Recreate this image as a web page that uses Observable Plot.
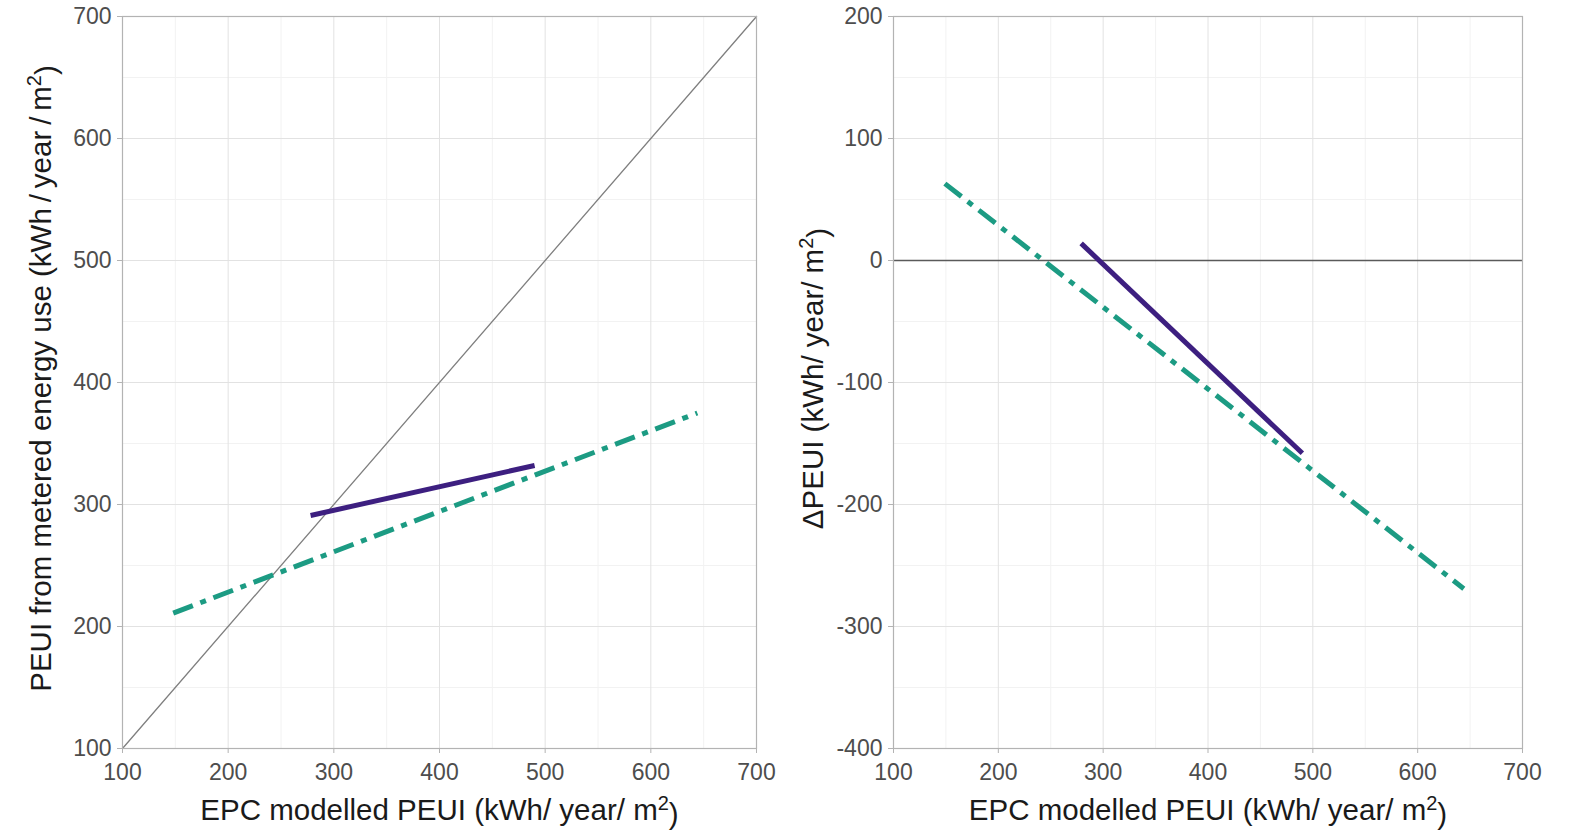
<!DOCTYPE html>
<html>
<head>
<meta charset="utf-8">
<script src="https://cdn.jsdelivr.net/npm/d3@7"></script>
<script src="https://cdn.jsdelivr.net/npm/@observablehq/plot@0.6"></script>
<style>
  html, body { margin: 0; padding: 0; background: #fff; }
  #wrap { display: flex; width: 1573px; height: 832px; }
  svg { font-family: "Liberation Sans", Arial, sans-serif; }
</style>
</head>
<body>
<div id="wrap"></div>
<script>
// ---- data ----
const seriesNames = ["Group A", "Group B"];
// Left panel: fitted lines, EPC modelled PEUI (x) vs metered PEUI (y)
const solidX = [278, 490];
const solidY = [291, 332];
const dashX = [148, 644];
const dashY = [211, 375];
// Right panel: delta PEUI
const solidDX = [279, 490];
const solidDY = [14, -158];
const dashDX = [149, 644];
const dashDY = [63, -269];
// identity reference line
const identX = [100, 700];
const identY = [100, 700];
const zeroLine = [0];
// ticks
const xTicks = [100, 200, 300, 400, 500, 600, 700];
const xMinor = [150, 250, 350, 450, 550, 650];
const yTicksL = [100, 200, 300, 400, 500, 600, 700];
const yMinorL = [150, 250, 350, 450, 550, 650];
const yTicksR = [-400, -300, -200, -100, 0, 100, 200];
const yMinorR = [-350, -250, -150, -50, 50, 150];
// labels
const xLabel = "EPC modelled PEUI (kWh/ year/ m^2)";
const yLabelL = "PEUI from metered energy use (kWh\u2009/\u2009year\u2009/\u2009m^2)";
const yLabelR = "\u0394PEUI (kWh/ year/ m^2)";

const colors = ["#3d1f80", "#1c9b83"];
const toPts = (xs, ys) => xs.map((x, i) => ({x, y: ys[i]}));

function panel({width, ml, mr, yDomain, yTicks, yMinor, lines, ref, yLabel, yTitleX}) {
  const fmt = d => String(d);
  return Plot.plot({
    width, height: 832,
    marginLeft: ml, marginRight: mr, marginTop: 16, marginBottom: 84,
    style: {fontFamily: "Liberation Sans, Arial, sans-serif", fontSize: "22px", color: "#4d4d4d", background: "#fff", overflow: "visible"},
    x: {domain: [100, 700], ticks: xTicks, tickFormat: fmt, label: null},
    y: {domain: yDomain, ticks: yTicks, tickFormat: fmt, label: null},
    marks: [
      Plot.gridX(xMinor, {stroke: "#f2f2f2", strokeOpacity: 1, strokeWidth: 1}),
      Plot.gridY(yMinor, {stroke: "#f2f2f2", strokeOpacity: 1, strokeWidth: 1}),
      Plot.gridX(xTicks, {stroke: "#e2e2e2", strokeOpacity: 1, strokeWidth: 1}),
      Plot.gridY(yTicks, {stroke: "#e2e2e2", strokeOpacity: 1, strokeWidth: 1}),
      ...ref,
      ...lines,
      Plot.frame({stroke: "#b3b3b3", strokeWidth: 1.2}),
      Plot.axisX(xTicks, {tickSize: 5, tickPadding: 10, stroke: "#b3b3b3", fill: "#4d4d4d", fontSize: 23, tickFormat: fmt}),
      Plot.axisY(yTicks, {tickSize: 5, tickPadding: 6, stroke: "#b3b3b3", fill: "#4d4d4d", fontSize: 23, tickFormat: fmt}),
      Plot.text([xLabel], {frameAnchor: "bottom", textAnchor: "middle", dy: 71, text: d => d, fontSize: 29.5, fill: "#1a1a1a", className: "sup"}),
      Plot.text([yLabel], {frameAnchor: "left", textAnchor: "middle", dx: -ml + yTitleX, dy: -4, rotate: -90, text: d => d, fontSize: 29.5, fill: "#1a1a1a", className: "sup"})
    ]
  });
}

const leftLines = [
  Plot.line(toPts(dashX, dashY), {x: "x", y: "y", stroke: colors[1], strokeWidth: 5, strokeDasharray: "21,8,6,8", strokeLinecap: "butt"}),
  Plot.line(toPts(solidX, solidY), {x: "x", y: "y", stroke: colors[0], strokeWidth: 5, strokeLinecap: "butt"})
];
const rightLines = [
  Plot.line(toPts(dashDX, dashDY), {x: "x", y: "y", stroke: colors[1], strokeWidth: 5, strokeDasharray: "21,8,6,8", strokeLinecap: "butt"}),
  Plot.line(toPts(solidDX, solidDY), {x: "x", y: "y", stroke: colors[0], strokeWidth: 5, strokeLinecap: "butt"})
];

const left = panel({
  width: 780, ml: 122, mr: 24,
  yDomain: [100, 700], yTicks: yTicksL, yMinor: yMinorL,
  lines: leftLines,
  ref: [Plot.line(toPts(identX, identY), {x: "x", y: "y", stroke: "#7f7f7f", strokeWidth: 1.3})],
  yLabel: yLabelL, yTitleX: 41
});
const right = panel({
  width: 793, ml: 113, mr: 51,
  yDomain: [-400, 200], yTicks: yTicksR, yMinor: yMinorR,
  lines: rightLines,
  ref: [Plot.ruleY(zeroLine, {stroke: "#5a5a5a", strokeWidth: 1.6})],
  yLabel: yLabelR, yTitleX: 33
});

const wrap = document.getElementById("wrap");
wrap.appendChild(left);
wrap.appendChild(right);

// superscript rendering for "^2"
document.querySelectorAll("g.sup text").forEach(t => {
  const s = t.textContent;
  const i = s.indexOf("^2");
  if (i < 0) return;
  const before = s.slice(0, i), after = s.slice(i + 2);
  t.textContent = "";
  const ns = "http://www.w3.org/2000/svg";
  const a = document.createElementNS(ns, "tspan"); a.textContent = before;
  const b = document.createElementNS(ns, "tspan"); b.textContent = "2";
  b.setAttribute("dy", "-0.5em"); b.setAttribute("font-size", "20");
  const c = document.createElementNS(ns, "tspan"); c.textContent = after;
  c.setAttribute("dy", "0.5em");
  t.append(a, b, c);
});
</script>
</body>
</html>
